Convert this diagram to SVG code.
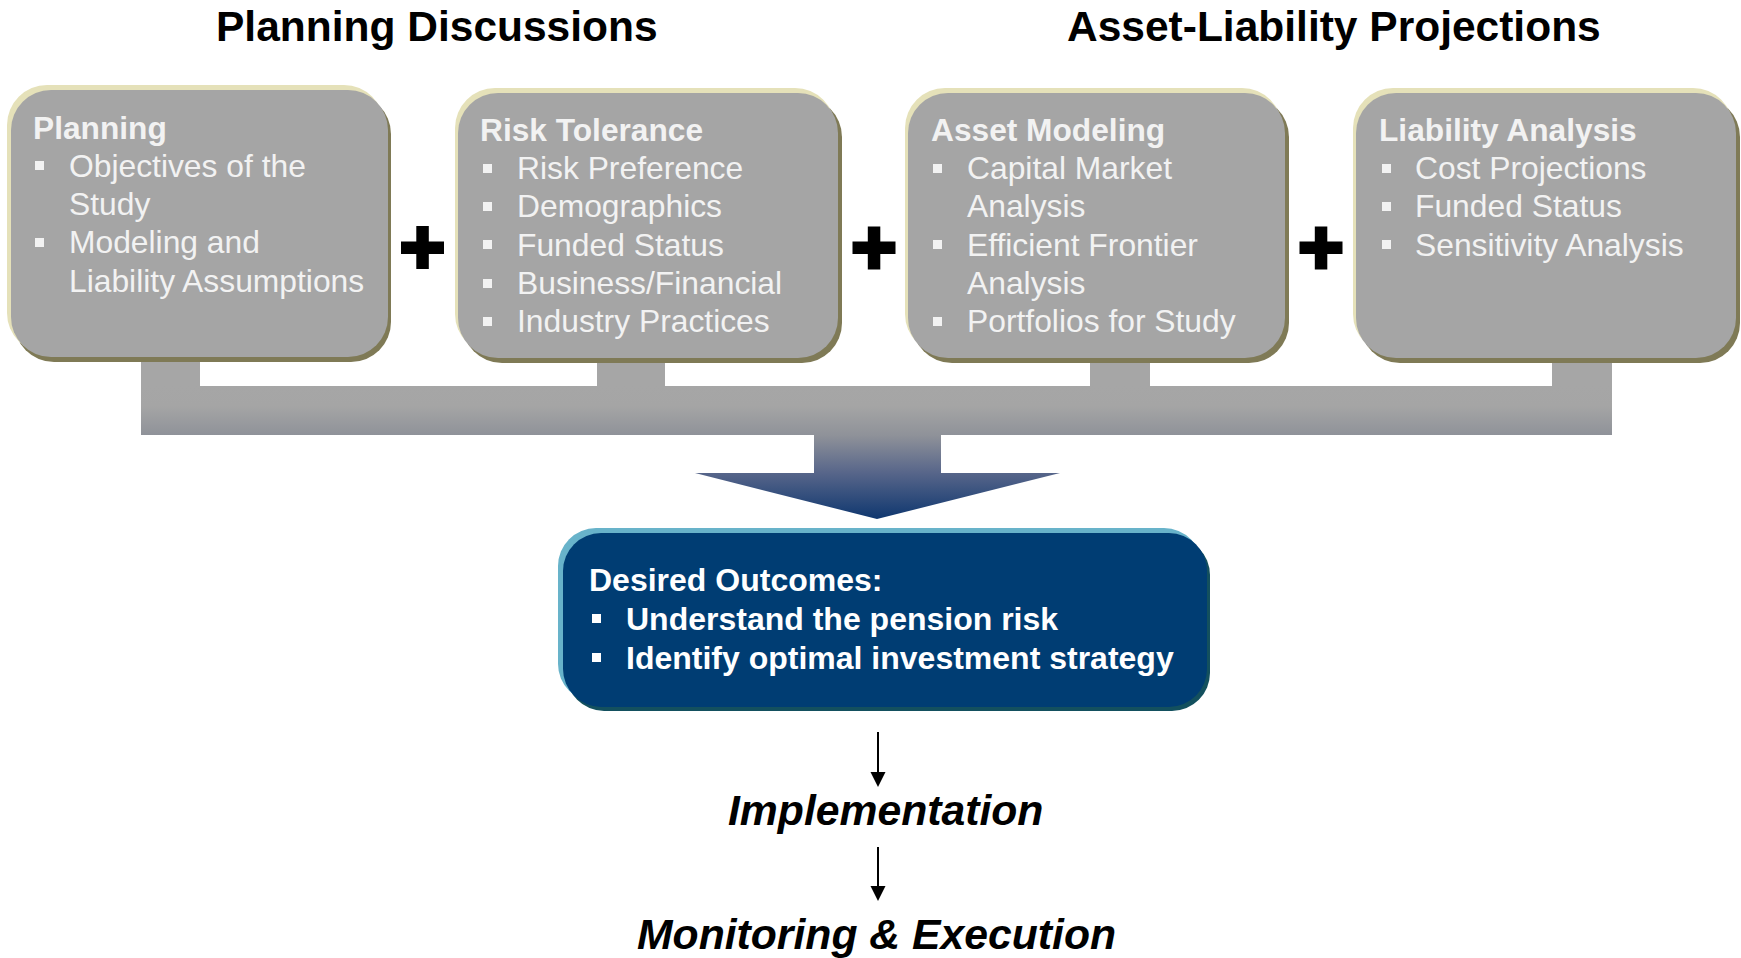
<svg xmlns="http://www.w3.org/2000/svg" width="1741" height="958" viewBox="0 0 1741 958">
<defs>
<style>
text{font-family:"Liberation Sans",Arial,sans-serif;}
.head{font-size:42.5px;font-weight:bold;fill:#000;}
.ttl{font-size:31.7px;font-weight:bold;fill:#f2f2f2;}
.itm{font-size:31.8px;fill:#f2f2f2;}
.bul{fill:#f2f2f2;}
.hi{fill:#e5e1b9;}
.lo{fill:#7f7a56;}
.gr{fill:#a5a5a5;}
.dt{font-size:32px;font-weight:bold;fill:#ffffff;}
.dbul{fill:#ffffff;}
.step{font-size:42.7px;font-weight:bold;font-style:italic;fill:#000;}
.plus{fill:#000;}
</style>
<linearGradient id="conn" gradientUnits="userSpaceOnUse" x1="0" y1="386" x2="0" y2="519">
<stop offset="0" stop-color="#a6a6a6"/>
<stop offset="0.15" stop-color="#a5a5a5"/>
<stop offset="0.37" stop-color="#8f9299"/>
<stop offset="0.65" stop-color="#58668a"/>
<stop offset="1" stop-color="#0f376f"/>
</linearGradient>
</defs>
<rect x="0" y="0" width="1741" height="958" fill="#ffffff"/>

<g id="headings">
<text class="head" x="216" y="41">Planning Discussions</text>
<text class="head" x="1067" y="41">Asset-Liability Projections</text>
</g>

<g id="connectors">
<path d="M141,345 H200 V386 H597 V345 H665 V386 H1090 V345 H1150 V386 H1552 V345 H1612 V435 H941 V473 H1060 L877,519 L695,473 H814 V435 H141 Z" fill="url(#conn)"/>
<line x1="878" y1="732" x2="878" y2="773" stroke="#000" stroke-width="2"/>
<path d="M870.5,772 L885.5,772 L878,787 Z" fill="#000"/>
<line x1="878" y1="847" x2="878" y2="887" stroke="#000" stroke-width="2"/>
<path d="M870.5,886 L885.5,886 L878,901 Z" fill="#000"/>
</g>

<g id="plus-signs">
<rect class="plus" x="401" y="241.5" width="43" height="12.5"/>
<rect class="plus" x="416.3" y="226" width="12.5" height="43"/>
<rect class="plus" x="852.5" y="241.5" width="43" height="12.5"/>
<rect class="plus" x="867.8" y="226.5" width="12.5" height="43"/>
<rect class="plus" x="1299.5" y="241.5" width="43" height="12.5"/>
<rect class="plus" x="1314.8" y="226.5" width="12.5" height="43"/>
</g>

<g id="node-planning">
<rect class="lo" x="14" y="94" width="377" height="268" rx="40"/>
<rect class="hi" x="7" y="85" width="377" height="268" rx="40"/>
<rect class="gr" x="11" y="90" width="377" height="267" rx="40"/>
<text class="ttl" x="33" y="139">Planning</text>
<rect class="bul" x="35" y="161" width="9" height="9"/>
<text class="itm" x="69" y="177">Objectives of the</text>
<text class="itm" x="69" y="215">Study</text>
<rect class="bul" x="35" y="238" width="9" height="9"/>
<text class="itm" x="69" y="253">Modeling and</text>
<text class="itm" x="69" y="292">Liability Assumptions</text>
</g>

<g id="node-risk">
<rect class="lo" x="462" y="97" width="380" height="266" rx="40"/>
<rect class="hi" x="455" y="88" width="380" height="266" rx="40"/>
<rect class="gr" x="458" y="93" width="380" height="265" rx="40"/>
<text class="ttl" x="480" y="141">Risk Tolerance</text>
<rect class="bul" x="483" y="164" width="9" height="9"/>
<text class="itm" x="517" y="179">Risk Preference</text>
<rect class="bul" x="483" y="202" width="9" height="9"/>
<text class="itm" x="517" y="217">Demographics</text>
<rect class="bul" x="483" y="240" width="9" height="9"/>
<text class="itm" x="517" y="255.5">Funded Status</text>
<rect class="bul" x="483" y="279" width="9" height="9"/>
<text class="itm" x="517" y="294">Business/Financial</text>
<rect class="bul" x="483" y="317" width="9" height="9"/>
<text class="itm" x="517" y="332">Industry Practices</text>
</g>

<g id="node-asset">
<rect class="lo" x="912" y="97" width="377" height="266" rx="40"/>
<rect class="hi" x="905" y="88" width="377" height="266" rx="40"/>
<rect class="gr" x="908" y="93" width="377" height="265" rx="40"/>
<text class="ttl" x="931" y="141">Asset Modeling</text>
<rect class="bul" x="933" y="164" width="9" height="9"/>
<text class="itm" x="967" y="179">Capital Market</text>
<text class="itm" x="967" y="217">Analysis</text>
<rect class="bul" x="933" y="240" width="9" height="9"/>
<text class="itm" x="967" y="255.5">Efficient Frontier</text>
<text class="itm" x="967" y="294">Analysis</text>
<rect class="bul" x="933" y="317" width="9" height="9"/>
<text class="itm" x="967" y="332">Portfolios for Study</text>
</g>

<g id="node-liability">
<rect class="lo" x="1360" y="97" width="380" height="266" rx="40"/>
<rect class="hi" x="1353" y="88" width="380" height="266" rx="40"/>
<rect class="gr" x="1356" y="93" width="380" height="265" rx="40"/>
<text class="ttl" x="1379" y="141">Liability Analysis</text>
<rect class="bul" x="1382" y="164" width="9" height="9"/>
<text class="itm" x="1415" y="179">Cost Projections</text>
<rect class="bul" x="1382" y="202" width="9" height="9"/>
<text class="itm" x="1415" y="217">Funded Status</text>
<rect class="bul" x="1382" y="240" width="9" height="9"/>
<text class="itm" x="1415" y="255.5">Sensitivity Analysis</text>
</g>

<g id="node-outcomes">
<rect x="566" y="537" width="644" height="174" rx="38" fill="#13505e"/>
<rect x="558" y="528" width="644" height="174" rx="38" fill="#68b3ca"/>
<rect x="563" y="533" width="644" height="174" rx="38" fill="#003d73"/>
<text class="dt" x="589" y="591">Desired Outcomes:</text>
<rect class="dbul" x="592" y="614" width="9" height="9"/>
<text class="dt" x="626" y="630">Understand the pension risk</text>
<rect class="dbul" x="592" y="653" width="9" height="9"/>
<text class="dt" x="626" y="669">Identify optimal investment strategy</text>
</g>

<g id="node-implementation">
<text class="step" x="728" y="825">Implementation</text>
</g>

<g id="node-monitoring">
<text class="step" x="637" y="949">Monitoring &amp; Execution</text>
</g>
</svg>
